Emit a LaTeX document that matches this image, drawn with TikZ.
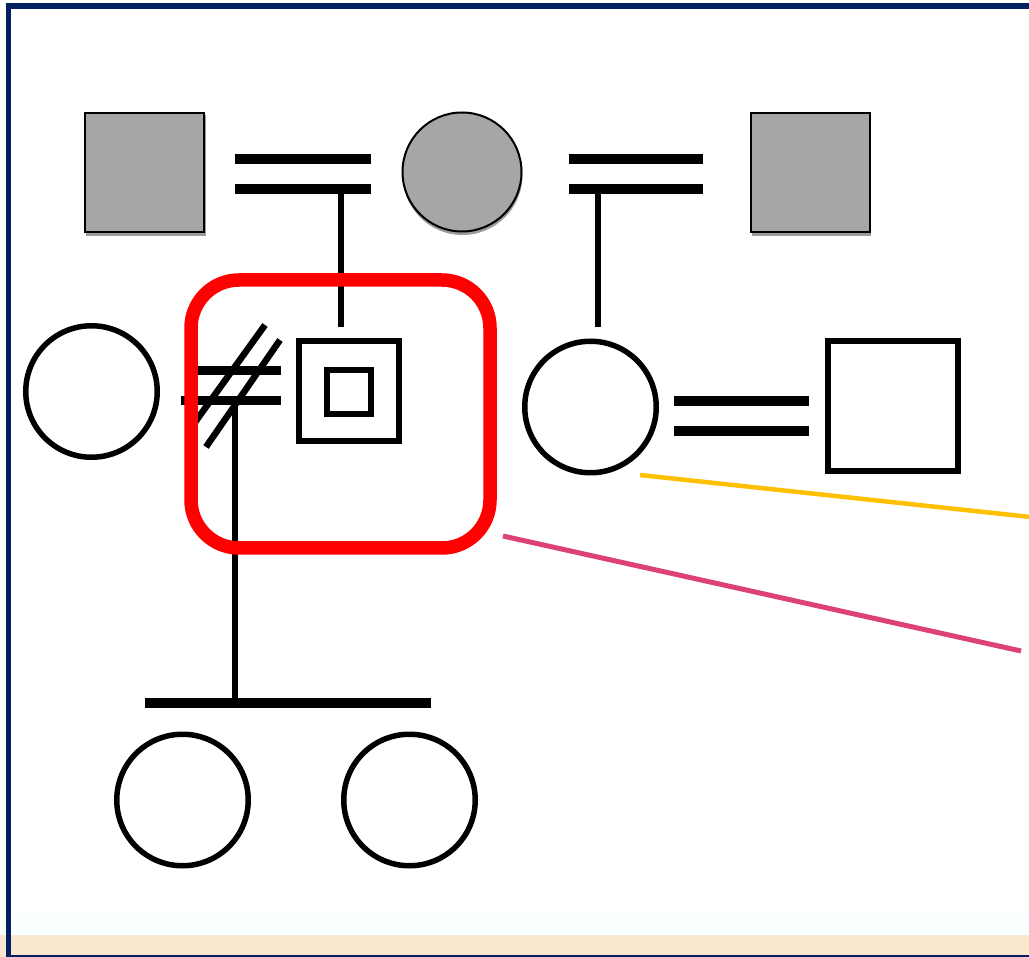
\documentclass[tikz,border=0pt]{standalone}
\usetikzlibrary{calc}
\definecolor{navy}{HTML}{002060}
\definecolor{peach}{HTML}{FBE6D0}
\definecolor{affgray}{HTML}{A6A6A6}
\definecolor{shadowgray}{HTML}{9C9C9C}
\definecolor{hlred}{HTML}{FF0000}
\definecolor{hlyellow}{HTML}{FFC000}
\definecolor{hlpink}{HTML}{DC4374}
\tikzset{
  affsquare/.style={rectangle, draw=black, line width=2pt, fill=affgray, minimum size=119pt, inner sep=0pt},
  affcircle/.style={circle, draw=black, line width=2pt, fill=affgray, minimum size=119pt, inner sep=0pt},
  femalebox/.style={circle, draw=black, line width=5.5pt, minimum size=131.5pt, inner sep=0pt},
  malebox/.style={rectangle, draw=black, line width=6pt, inner sep=0pt},
  marline/.style={line width=10pt},
  descline/.style={line width=5.5pt},
  divorce/.style={line width=6.5pt},
}
\begin{document}
\begin{tikzpicture}[x=1pt,y=-1pt]
\useasboundingbox (0,0) rectangle (1029,957);
\clip (0,0) rectangle (1029,957);
% background and bottom band
\fill[white] (0,0) rectangle (1029,957);
\shade[top color=white, bottom color=white!92!cyan!30] (0,900) rectangle (1029,935);
\fill[peach] (0,935) rectangle (1029,957);
\draw[navy, line width=5.5pt] (8.5,6) rectangle (1040,957.5);

% generation I (with drop shadows)
\fill[shadowgray] (86,115) rectangle (206,236);
\fill[shadowgray] (751.5,115) rectangle (871,236);
\fill[shadowgray] (462.5,175) circle (60);
\node[affsquare] (gf) at (144.5,172.5) {};
\node[affcircle] (gm) at (462,172) {};
\node[affsquare] (sgf) at (810,172.5) {};

% generation II
\node[femalebox] (exwife) at (91.5,391.5) {};
\node[malebox, minimum size=100pt] (proband) at (349,391.5) {};
\node[malebox, minimum size=44pt] (probandin) at (349,392) {};
\node[femalebox] (aunt) at (590.5,407) {};
\node[malebox, minimum size=130pt] (uncle) at (893,406.5) {};

% generation III
\node[femalebox] (d1) at (182.5,800) {};
\node[femalebox] (d2) at (409.5,800) {};

% marriage lines, generation I
\draw[marline] ($(gf.east)+(30,-13.5)$) -- ($(gm.west)+(-31,-13)$);
\draw[marline] ($(gf.east)+(30,16.5)$) -- ($(gm.west)+(-31,17)$);
\draw[marline] ($(gm.east)+(46,-13)$) -- ($(sgf.west)+(-47,-13.5)$);
\draw[marline] ($(gm.east)+(46,17)$) -- ($(sgf.west)+(-47,16.5)$);
\coordinate (m1) at (341,189);
\coordinate (m1end) at (341,327);
\coordinate (m2) at (598,189);
\coordinate (m2end) at (598,327);
\draw[descline] (m1) -- (m1end);
\draw[descline] (m2) -- (m2end);

% divorced couple
\draw[marline, line width=9pt] ($(exwife.east)+(35,-20.5)$) -- ($(proband.west)+(-15,-20.5)$);
\draw[marline, line width=9pt] ($(exwife.east)+(21,9.5)$) -- ($(proband.west)+(-15,9.5)$);
\draw[divorce] (265,325) -- (193,425);
\draw[divorce] (280,340) -- (206,447);
\coordinate (dv) at (235,401);
\coordinate (sib) at (235,703);
\draw[descline] (dv) -- (sib);
\draw[marline] (145,703) -- (431,703);

% aunt's marriage
\draw[marline] ($(aunt.east)+(15,-6)$) -- ($(uncle.west)+(-16,-5.5)$);
\draw[marline] ($(aunt.east)+(15,24)$) -- ($(uncle.west)+(-16,24.5)$);

% highlight frame and pointers
\draw[hlred, line width=13.5pt, rounded corners=48pt] (191,280) rectangle (490,548);
\draw[hlyellow, line width=4.5pt] (640,475) -- (1035,517.5);
\draw[hlpink, line width=5pt] (503,536) -- (1021,651);
\end{tikzpicture}
\end{document}
